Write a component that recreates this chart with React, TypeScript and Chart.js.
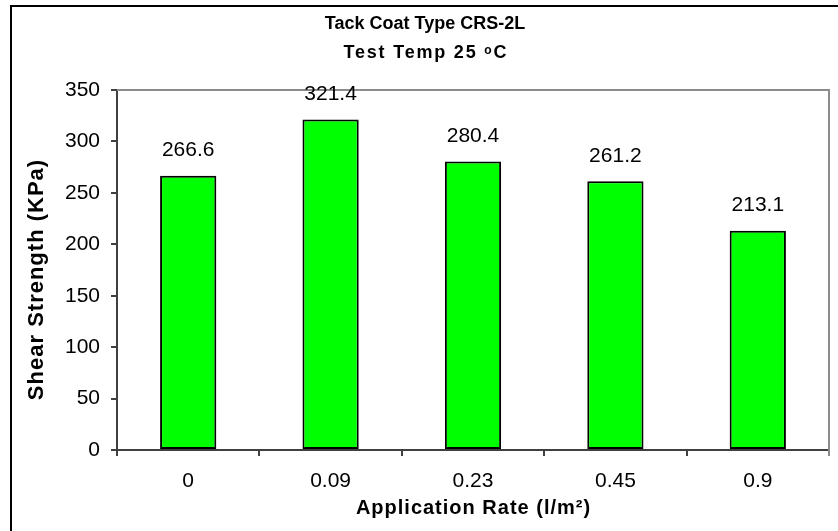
import React, { useEffect, useRef } from 'react';
import { Chart, registerables } from 'chart.js';

Chart.register(...registerables);

const categories = ['0', '0.09', '0.23', '0.45', '0.9'];
const shearStrength = [266.6, 321.4, 280.4, 261.2, 213.1];
const titleLine1 = 'Tack Coat Type CRS-2L';
const titleLine2 = 'Test Temp 25 ᵒC';
const xAxisTitle = 'Application Rate (l/m²)';
const yAxisTitle = 'Shear Strength (KPa)';
const yMin = 0;
const yMax = 350;
const yStep = 50;

const FONT = '"Liberation Sans", Arial, Helvetica, sans-serif';

function drawText(
  ctx: CanvasRenderingContext2D,
  text: string,
  x: number,
  y: number,
  font: string,
  spacing: number,
  rotate = 0
) {
  ctx.save();
  ctx.fillStyle = '#000000';
  ctx.font = font;
  (ctx as any).letterSpacing = `${spacing}px`;
  ctx.textAlign = 'center';
  ctx.textBaseline = 'middle';
  ctx.translate(x, y);
  if (rotate) ctx.rotate(rotate);
  ctx.fillText(text, spacing / 2, 0);
  ctx.restore();
}

export default function App() {
  const canvasRef = useRef<HTMLCanvasElement | null>(null);

  useEffect(() => {
    const canvas = canvasRef.current;
    if (!canvas) return;

    const decorations = {
      id: 'decorations',
      beforeDraw(chart: any) {
        const { ctx } = chart;
        ctx.save();
        ctx.fillStyle = '#ffffff';
        ctx.fillRect(0, 0, chart.width, chart.height);
        ctx.strokeStyle = '#000000';
        ctx.lineWidth = 2;
        ctx.beginPath();
        ctx.moveTo(11, chart.height + 2);
        ctx.lineTo(11, 6);
        ctx.lineTo(chart.width + 2, 6);
        ctx.stroke();
        ctx.restore();
      },
      beforeDatasetsDraw(chart: any) {
        const { ctx, chartArea } = chart;
        ctx.save();
        ctx.strokeStyle = '#8c8c8c';
        ctx.lineWidth = 2;
        ctx.beginPath();
        ctx.moveTo(chartArea.left, chartArea.top);
        ctx.lineTo(chartArea.right, chartArea.top);
        ctx.lineTo(chartArea.right, chartArea.bottom + 6);
        ctx.stroke();
        ctx.restore();
      },
      afterDatasetsDraw(chart: any) {
        const { ctx } = chart;
        const meta = chart.getDatasetMeta(0);
        ctx.save();
        ctx.font = `21px ${FONT}`;
        ctx.fillStyle = '#000000';
        ctx.textAlign = 'center';
        ctx.textBaseline = 'alphabetic';
        meta.data.forEach((bar: any, i: number) => {
          ctx.fillText(shearStrength[i].toFixed(1), bar.x, bar.y - 19.5);
        });
        ctx.restore();
      },
      afterDraw(chart: any) {
        const { ctx, chartArea } = chart;
        // chart title (two lines)
        drawText(ctx, titleLine1, 425, 24.5, `bold 18px ${FONT}`, 0);
        drawText(ctx, titleLine2, 425, 53.5, `bold 18px ${FONT}`, 1.8);
        // x axis title
        drawText(ctx, xAxisTitle, (chartArea.left + chartArea.right) / 2, 508, `bold 20px ${FONT}`, 1);
        // y axis title
        drawText(ctx, yAxisTitle, 37, 280, `bold 22px ${FONT}`, 1, -Math.PI / 2);
      },
    };

    const chart = new Chart(canvas, {
      type: 'bar',
      data: {
        labels: categories,
        datasets: [
          {
            data: shearStrength,
            backgroundColor: '#00ff00',
            borderColor: '#000000',
            borderWidth: 2,
            borderSkipped: false,
            barPercentage: 0.395,
            categoryPercentage: 1,
          },
        ],
      },
      options: {
        animation: false,
        responsive: true,
        maintainAspectRatio: false,
        layout: { padding: { left: 20, right: 9, top: 90, bottom: 0 } },
        plugins: {
          legend: { display: false },
          tooltip: { enabled: false },
          title: { display: false },
        },
        scales: {
          x: {
            afterFit(scale: any) {
              scale.height = 81;
            },
            grid: {
              display: true,
              drawOnChartArea: false,
              drawTicks: true,
              tickLength: 6,
              color: '#404040',
              lineWidth: 2,
            },
            border: { display: true, color: '#404040', width: 2 },
            ticks: {
              color: '#000000',
              font: { family: FONT, size: 21 },
              padding: 13,
              maxRotation: 0,
            },
            title: { display: false },
          },
          y: {
            min: yMin,
            max: yMax,
            afterFit(scale: any) {
              scale.width = 97;
            },
            grid: {
              display: true,
              drawOnChartArea: false,
              drawTicks: true,
              tickLength: 6,
              color: '#404040',
              lineWidth: 2,
            },
            border: { display: true, color: '#404040', width: 2 },
            ticks: {
              stepSize: yStep,
              color: '#000000',
              font: { family: FONT, size: 21 },
              padding: 11,
            },
            title: { display: false },
          },
        },
      },
      plugins: [decorations],
    });

    return () => {
      chart.destroy();
    };
  }, []);

  return (
    <div style={{ position: 'fixed', left: 0, top: 0, width: 838, height: 531, background: '#fff' }}>
      <canvas ref={canvasRef} />
    </div>
  );
}
